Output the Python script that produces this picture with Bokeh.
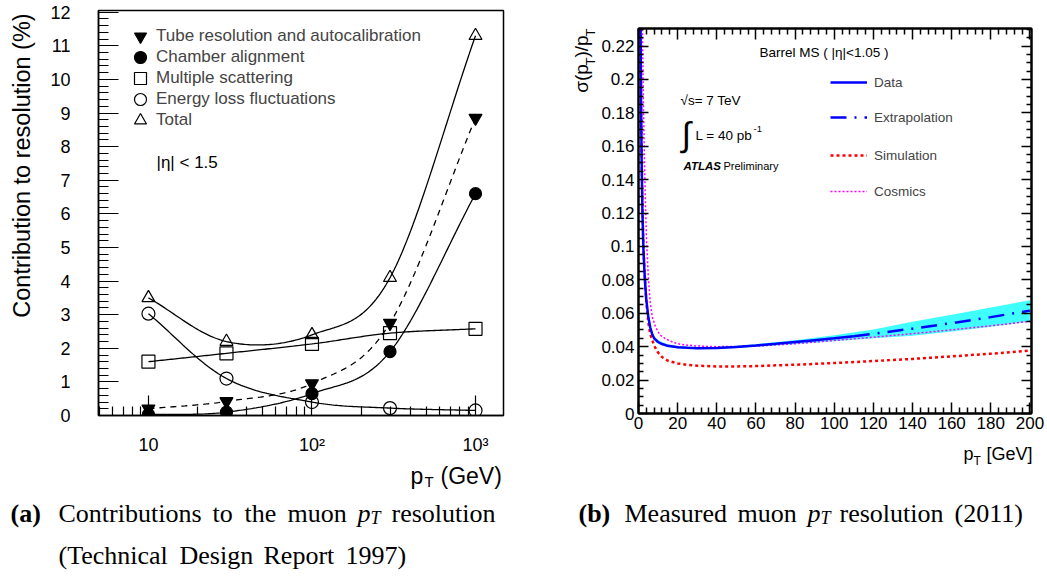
import numpy as np
from bokeh.plotting import figure
from bokeh.models import (Range1d, FixedTicker, LinearAxis, Label, Legend, LegendItem,
                          CustomJSTickFormatter)
from bokeh.layouts import row, column
from bokeh.embed import file_html
from bokeh.resources import INLINE

# ---------------- panel (a): contributions to resolution (%) ----------------
pt_a = [10, 30, 100, 300, 1000]
tube = [0.2, 0.42, 0.95, 2.75, 8.85]
chamber = [0.03, 0.1, 0.65, 1.9, 6.6]
mscat = [1.6, 1.85, 2.13, 2.45, 2.58]
eloss = [3.03, 1.1, 0.4, 0.22, 0.15]
total = [3.5, 2.2, 2.4, 4.1, 11.3]
names_a = ["Tube resolution and autocalibration", "Chamber alignment",
           "Multiple scattering", "Energy loss fluctuations", "Total"]
yticks_a = list(range(0, 13))
xticks_a = [10, 100, 1000]
xminor_a = [5, 6, 7, 8, 9, 20, 30, 40, 50, 60, 70, 80, 90,
            200, 300, 400, 500, 600, 700, 800, 900]
xlabels_a = {10: "10", 100: "10²", 1000: "10³"}

# ---------------- panel (b): measured resolution sigma(pT)/pT ----------------
data_pt = [1.05, 1.3, 1.6, 2.0, 2.5, 3.0, 3.5, 4.0, 5.0, 6.0, 7.0, 8.0, 10, 12, 15,
           20, 25, 30, 40, 50, 60, 70, 80, 90, 100, 110]
data_res = [0.230, 0.186, 0.152, 0.121, 0.099, 0.086, 0.076, 0.068, 0.058, 0.0515,
            0.0475, 0.045, 0.0428, 0.0416, 0.0405, 0.0397, 0.0393, 0.0391, 0.0392,
            0.0398, 0.0407, 0.0417, 0.0428, 0.0439, 0.0450, 0.0462]
extra_pt = [110, 120, 140, 160, 180, 200]
extra_res = [0.0462, 0.0477, 0.0508, 0.0541, 0.0577, 0.0616]
band_pt = [4, 6, 8, 10, 15, 20, 30, 40, 60, 80, 100, 120, 140, 160, 180, 200]
band_lo = [0.066, 0.050, 0.0438, 0.0418, 0.0397, 0.0390, 0.0385, 0.0386, 0.0399,
           0.0415, 0.0432, 0.0451, 0.0466, 0.0491, 0.0519, 0.0550]
band_hi = [0.070, 0.053, 0.0462, 0.0438, 0.0413, 0.0404, 0.0397, 0.0398, 0.0415,
           0.0439, 0.0468, 0.0503, 0.0550, 0.0591, 0.0635, 0.0678]
sim_pt = [1.05, 1.3, 1.6, 2.0, 2.5, 3.0, 3.5, 4.0, 5.0, 6.0, 8.0, 10, 12, 15, 20, 25,
          30, 40, 50, 60, 80, 100, 120, 140, 160, 180, 200]
sim_res = [0.230, 0.187, 0.153, 0.122, 0.101, 0.087, 0.076, 0.067, 0.0545, 0.0475,
           0.0406, 0.0365, 0.0338, 0.0316, 0.0300, 0.0291, 0.0286, 0.0282, 0.0282,
           0.0284, 0.0292, 0.0302, 0.0314, 0.0327, 0.0342, 0.0358, 0.0376]
cos_pt = [2.0, 2.5, 3.0, 3.5, 4.0, 5.0, 6.0, 7.0, 8.8, 11, 14, 18, 22, 30, 40, 60, 80,
          100, 120, 140, 160, 180, 200]
cos_res = [0.230, 0.188, 0.155, 0.128, 0.107, 0.082, 0.0665, 0.058, 0.0516, 0.047,
           0.0446, 0.0425, 0.0413, 0.0404, 0.0400, 0.0403, 0.0418, 0.0437, 0.0457,
           0.0478, 0.0501, 0.0525, 0.0552]
names_b = ["Data", "Extrapolation", "Simulation", "Cosmics"]
xticks_b = list(range(0, 201, 20))
xminor_b = [v for v in range(0, 201, 4) if v % 20]
yticks_b = [0.0, 0.02, 0.04, 0.06, 0.08, 0.1, 0.12, 0.14, 0.16, 0.18, 0.2, 0.22]
yminor_b = [round(0.005 * i, 3) for i in range(47) if i % 4]

SANS = "Liberation Sans"
SERIF = "Liberation Serif"


def smooth(xs, ys, n=40):
    """Smooth connecting curve (Catmull-Rom in log-x) through the measured points."""
    P = np.column_stack([np.log10(xs), np.asarray(ys, float)])
    Q = np.vstack([2 * P[0] - P[1], P, 2 * P[-1] - P[-2]])
    t = np.linspace(0, 1, n, endpoint=False)[:, None]
    segs = []
    for i in range(1, len(Q) - 2):
        p0, p1, p2, p3 = Q[i - 1], Q[i], Q[i + 1], Q[i + 2]
        segs.append(0.5 * (2 * p1 + (-p0 + p2) * t + (2 * p0 - 5 * p1 + 4 * p2 - p3) * t ** 2
                           + (-p0 + 3 * p1 - 3 * p2 + p3) * t ** 3))
    segs.append(P[-1][None, :])
    S = np.vstack(segs)
    return 10 ** S[:, 0], S[:, 1]


def label(p, origin, px, py, text, size, font=SANS, align="left", baseline="middle",
          angle=0.0, style="normal", color="black"):
    """origin = page coordinates of the frame's left and bottom edges."""
    fx, fy = origin
    p.add_layout(Label(x=px - fx, y=fy - py, x_units="screen", y_units="screen", text=text,
                       text_font=font, text_font_size=f"{size}px", text_align=align,
                       text_baseline=baseline, angle=angle, text_font_style=style,
                       text_color=color))


def text_fig(w, h):
    f = figure(width=w, height=h, x_range=Range1d(0, w), y_range=Range1d(0, h),
               output_backend="svg", toolbar_location=None, title=None,
               x_axis_location=None, y_axis_location=None, min_border=0)
    f.grid.visible = False
    f.outline_line_color = None
    f.background_fill_color = "white"
    f.border_fill_color = "white"
    return f


# =============================== panel (a) ===============================
# page geometry: y-title strip 0..45, plot figure 45..540 (frame 98..503 x 10..415)
YTA_W = 45
A_H = 458
FA = (98, 415)
pa = figure(width=540 - YTA_W, height=A_H, x_axis_type="log", x_range=Range1d(4.95, 1483),
            y_range=Range1d(0, 12.05), output_backend="svg", toolbar_location=None, title=None,
            min_border_left=98 - YTA_W, min_border_right=540 - 503, min_border_top=10,
            min_border_bottom=A_H - 415)
pa.grid.visible = False
pa.outline_line_color = "black"
pa.outline_line_width = 1.5
pa.background_fill_color = "white"
pa.border_fill_color = "white"

xa = pa.xaxis[0]
xa.ticker = FixedTicker(ticks=xticks_a, minor_ticks=xminor_a)
xa.major_label_overrides = xlabels_a
ya = pa.yaxis[0]
ya.ticker = FixedTicker(ticks=yticks_a, minor_ticks=[round(0.2 * i, 1) for i in range(61) if i % 5])
for ax in (xa, ya):
    ax.major_tick_in = 20
    ax.major_tick_out = 0
    ax.minor_tick_in = 10
    ax.minor_tick_out = 0
    ax.axis_line_width = 1.5
    ax.major_tick_line_width = 1.2
    ax.minor_tick_line_width = 1.2
    ax.major_label_text_font = SANS
    ax.major_label_text_font_size = "18px"
    ax.major_label_text_color = "black"
xa.minor_tick_in = 9
xa.major_label_standoff = 19
ya.major_label_standoff = 28

series = [(tube, "inverted_triangle", 1.0, "6 5"),
          (chamber, "circle", 1.0, "solid"),
          (mscat, "square", 0.0, "solid"),
          (eloss, "circle", 0.0, "solid"),
          (total, "triangle", 0.0, "solid")]
for ys, _, _, dash in series:
    sx, sy = smooth(pt_a, ys)
    pa.line(sx, sy, line_color="black", line_width=1.3, line_dash=dash)
rends_a = []
for ys, mk, fa, _ in series:
    size = 12 if (mk == "circle" and fa > 0) else 13
    r = pa.scatter(pt_a, ys, marker=mk, size=size, line_color="black", line_width=1.2,
                   fill_color="black", fill_alpha=fa)
    rends_a.append(r)

rows_a = [36, 57, 78, 99, 120]
for r, name, yc in zip(rends_a, names_a, rows_a):
    lg = Legend(items=[LegendItem(label=name, renderers=[r])],
                location=(125 - FA[0], FA[1] - (yc + 15)),
                glyph_width=30, glyph_height=30, label_standoff=1, padding=0, margin=0,
                spacing=0, border_line_alpha=0, background_fill_alpha=0,
                label_text_font=SANS, label_text_font_size="17px", label_height=20)
    pa.add_layout(lg)
label(pa, FA, 156, 162, "|η| < 1.5", 17)

# y-axis title strip (page x 0..45); its frame is row-aligned with pa's frame (y 10..415)
yta = text_fig(YTA_W, A_H)
label(yta, (0, 415), 21, 165, "Contribution to resolution (%)", 23.5, align="center",
      angle=np.pi / 2)

# bottom strip (page x 0..540, y 458..586): x title and caption (a)
bota = text_fig(540, 586 - A_H)
OB = (0, 586)
label(bota, OB, 410, 475, "p", 23, baseline="alphabetic")
label(bota, OB, 424, 481, "T", 15, baseline="alphabetic")
label(bota, OB, 440, 475, "(GeV)", 23, baseline="alphabetic")
cap = dict(font=SERIF, baseline="alphabetic")
label(bota, OB, 10, 513, "(a)", 26, style="bold", **cap)
label(bota, OB, 58, 513, "Contributions", 26, **cap)
label(bota, OB, 212, 513, "to", 26, **cap)
label(bota, OB, 244, 513, "the", 26, **cap)
label(bota, OB, 287, 513, "muon", 26, **cap)
label(bota, OB, 357, 513, "p", 26, style="italic", **cap)
label(bota, OB, 370, 517, "T", 18, style="italic", **cap)
label(bota, OB, 391, 513, "resolution", 26, **cap)
label(bota, OB, 58, 555, "(Technical", 26, **cap)
label(bota, OB, 179, 555, "Design", 26, **cap)
label(bota, OB, 263, 555, "Report", 26, **cap)
label(bota, OB, 345, 555, "1997)", 26, **cap)

# =============================== panel (b) ===============================
# page geometry: y-title strip 540..598, plot figure 598..1047 (frame 636..1031 x 28..413)
YTB_W = 58
B_H = 436
FB = (636, 413)
pb = figure(width=1047 - 540 - YTB_W, height=B_H, x_range=Range1d(0, 200.8),
            y_range=Range1d(0, 0.2305), output_backend="svg", toolbar_location=None, title=None,
            min_border_left=636 - 540 - YTB_W, min_border_right=1047 - 1031, min_border_top=28,
            min_border_bottom=B_H - 413)
pb.grid.visible = False
pb.outline_line_color = "black"
pb.outline_line_width = 2
pb.background_fill_color = "white"
pb.border_fill_color = "white"

fmt = CustomJSTickFormatter(code="return tick.toFixed(2).replace(/0+$/, '').replace(/\\.$/, '');")
blank = CustomJSTickFormatter(code="return '';")
xb = pb.xaxis[0]
yb = pb.yaxis[0]
xb.ticker = FixedTicker(ticks=xticks_b, minor_ticks=xminor_b)
yb.ticker = FixedTicker(ticks=yticks_b, minor_ticks=yminor_b)
yb.formatter = fmt
top_ax = LinearAxis(ticker=FixedTicker(ticks=xticks_b, minor_ticks=xminor_b), formatter=blank)
right_ax = LinearAxis(ticker=FixedTicker(ticks=yticks_b, minor_ticks=yminor_b), formatter=blank)
pb.add_layout(top_ax, "above")
pb.add_layout(right_ax, "right")
for ax in (xb, top_ax):
    ax.major_tick_in = 11
    ax.minor_tick_in = 6
for ax in (yb, right_ax):
    ax.major_tick_in = 10
    ax.minor_tick_in = 5
for ax in (xb, yb, top_ax, right_ax):
    ax.major_tick_out = 0
    ax.minor_tick_out = 0
    ax.axis_line_width = 2
    ax.major_tick_line_width = 1.5
    ax.minor_tick_line_width = 1.5
    ax.major_label_text_font = SANS
    ax.major_label_text_font_size = "17px"
    ax.major_label_text_color = "black"
top_ax.major_label_standoff = 0
right_ax.major_label_standoff = 0
xb.major_label_standoff = 3
yb.major_label_standoff = 4

pb.varea(x=band_pt, y1=band_lo, y2=band_hi, fill_color="#00ffff", fill_alpha=0.75)
r_sim = pb.line(sim_pt, sim_res, line_color="#ff0000", line_width=2.5, line_dash="3 3")
r_cos = pb.line(cos_pt, cos_res, line_color="#ff00ff", line_width=1.5, line_dash="2 2")
r_dat = pb.line(data_pt, data_res, line_color="#0000ff", line_width=2.5)
r_ext = pb.line(extra_pt, extra_res, line_color="#0000ff", line_width=2.5, line_dash="16 8 2 8")

rows_b = [82, 117, 155, 191]
for r, name, yc in zip([r_dat, r_ext, r_sim, r_cos], names_b, rows_b):
    lg = Legend(items=[LegendItem(label=name, renderers=[r])],
                location=(828 - FB[0], FB[1] - (yc + 10)),
                glyph_width=37, glyph_height=20, label_standoff=7, padding=0, margin=0,
                spacing=0, border_line_alpha=0, background_fill_alpha=0,
                label_text_font=SANS, label_text_font_size="13.5px", label_height=20)
    pb.add_layout(lg)

label(pb, FB, 757, 52, "Barrel MS ( |η|<1.05 )", 13.5)
label(pb, FB, 678, 100, "√s= 7 TeV", 13.5)
label(pb, FB, 684, 133, "∫", 34, align="center")
label(pb, FB, 693, 135, "L = 40 pb", 13.5)
label(pb, FB, 751, 128, "-1", 9.5)
label(pb, FB, 681, 165, "ATLAS", 11.5, style="bold italic")
label(pb, FB, 721, 165, "Preliminary", 11)

# y-axis title strip (page x 540..598); its frame is row-aligned with pb's frame (y 28..413)
ytb = text_fig(YTB_W, B_H)
OY = (540, 413)
label(ytb, OY, 581, 78, "σ(p", 19, align="center", angle=np.pi / 2)
label(ytb, OY, 590, 61, "T", 13, align="center", angle=np.pi / 2)
label(ytb, OY, 581, 46, ")/p", 19, align="center", angle=np.pi / 2)
label(ytb, OY, 590, 32, "T", 13, align="center", angle=np.pi / 2)

# bottom strip (page x 540..1047, y 436..586): x title and caption (b)
botb = text_fig(1047 - 540, 586 - B_H)
OBB = (540, 586)
label(botb, OBB, 963, 453, "p", 18, baseline="alphabetic")
label(botb, OBB, 973, 460, "T", 12, baseline="alphabetic")
label(botb, OBB, 986, 453, "[GeV]", 18, baseline="alphabetic")
label(botb, OBB, 578, 513, "(b)", 26, style="bold", **cap)
label(botb, OBB, 624, 513, "Measured", 26, **cap)
label(botb, OBB, 737, 513, "muon", 26, **cap)
label(botb, OBB, 807, 513, "p", 26, style="italic", **cap)
label(botb, OBB, 820, 517, "T", 18, style="italic", **cap)
label(botb, OBB, 839, 513, "resolution", 26, **cap)
label(botb, OBB, 954, 513, "(2011)", 26, **cap)

layout = row(column(row(yta, pa), bota), column(row(ytb, pb), botb))
open("out.html", "w").write(file_html(layout, INLINE, "muon resolution"))
